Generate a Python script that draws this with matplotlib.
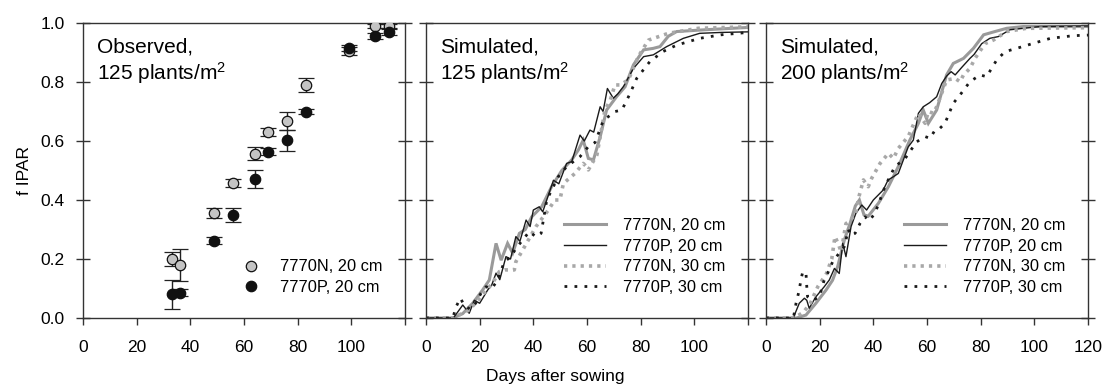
import matplotlib
matplotlib.use("Agg")
import matplotlib.pyplot as plt
from matplotlib.lines import Line2D

plt.rcParams['font.family'] = ['Liberation Sans', 'DejaVu Sans']
plt.rcParams['mathtext.fontset'] = 'custom'
plt.rcParams['mathtext.rm'] = 'Liberation Sans'
plt.rcParams['mathtext.it'] = 'Liberation Sans'

# ---------------- Observed data (panel 1) ----------------
obs_days = [33, 36, 49, 56, 64, 69, 76, 83, 99, 109, 114]
obsN = [0.20, 0.18, 0.355, 0.458, 0.557, 0.63, 0.667, 0.79, 0.905, 0.99, 0.99]
obsN_err = [0.025, 0.055, 0.017, 0.014, 0.021, 0.013, 0.03, 0.025, 0.012, 0.008, 0.008]
obsP = [0.08, 0.086, 0.262, 0.35, 0.471, 0.564, 0.602, 0.70, 0.915, 0.956, 0.969]
obsP_err = [0.048, 0.012, 0.011, 0.024, 0.03, 0.013, 0.035, 0.007, 0.01, 0.01, 0.01]

# ---------------- Simulated, 125 plants/m2 (panel 2) ----------------
p2_N20_d = [0, 10, 13.7, 17.4, 21.1, 23.6, 26.1, 28.0, 30.4, 32.3, 34.8, 37, 39.4, 43.1, 46.8,
            50.6, 54.3, 56.8, 58.6, 60.5, 62.4, 64.9, 67.3, 71.0, 74.2, 77.3, 81.1, 84.7, 87.2,
            90.3, 93.4, 102, 120]
p2_N20_f = [0, 0, 0.015, 0.05, 0.095, 0.129, 0.253, 0.196, 0.253, 0.22, 0.287, 0.30, 0.343, 0.377,
            0.445, 0.50, 0.536, 0.57, 0.603, 0.541, 0.536, 0.614, 0.705, 0.75, 0.784, 0.858, 0.909,
            0.914, 0.92, 0.955, 0.971, 0.976, 0.985]

p2_P20_d = [0, 9.6, 10.6, 13.7, 16.1, 18.0, 20.0, 23.0, 24.5, 26.1, 27.5, 29.8, 31.5, 33.5, 35.0,
            37.3, 38.8, 40.0, 42.2, 43.5, 45.0, 47.5, 49.5, 52.4, 54.3, 57.4, 59.0, 61.1, 62.5,
            64.9, 66.0, 67.6, 69.8, 71.5, 73.6, 77.3, 81.1, 84.7, 89.7, 95.9, 102, 110, 120]
p2_P20_f = [0, 0, 0.005, 0.044, 0.016, 0.06, 0.05, 0.095, 0.112, 0.152, 0.13, 0.208, 0.20, 0.276,
            0.26, 0.332, 0.31, 0.366, 0.377, 0.36, 0.40, 0.467, 0.455, 0.524, 0.53, 0.62, 0.60,
            0.637, 0.63, 0.716, 0.70, 0.778, 0.745, 0.76, 0.785, 0.846, 0.886, 0.892, 0.92, 0.948,
            0.965, 0.968, 0.97]

p2_N30_d = [0, 10, 16.1, 20.5, 24.8, 27.3, 29.4, 32.9, 33.5, 36.0, 38.5, 41, 45.6, 48, 49.9, 51.2,
            55.5, 58.6, 59.8, 60.5, 63.7, 66.7, 68.7, 70.4, 72.3, 75.4, 79.1, 82.9, 90.3, 101.5, 120]
p2_N30_f = [0, 0, 0.027, 0.072, 0.118, 0.157, 0.163, 0.163, 0.191, 0.23, 0.27, 0.31, 0.366, 0.40,
            0.40, 0.456, 0.49, 0.524, 0.513, 0.502, 0.553, 0.705, 0.739, 0.79, 0.79, 0.807, 0.886,
            0.942, 0.965, 0.982, 0.987]

p2_P30_d = [0, 10, 11.2, 12.8, 14.5, 16.5, 18.5, 20.5, 22.4, 24.5, 26.7, 29.2, 31.7, 33.5, 36.0,
            38.5, 41.0, 42.9, 45.0, 49.3, 52.4, 57.4, 60.5, 63.0, 66.1, 70.5, 73.0, 76.0, 78.5,
            83.4, 88.3, 93.4, 102, 110, 120]
p2_P30_f = [0, 0, 0.038, 0.067, 0.04, 0.03, 0.05, 0.084, 0.106, 0.10, 0.128, 0.191, 0.208, 0.236,
            0.264, 0.293, 0.275, 0.287, 0.40, 0.479, 0.513, 0.547, 0.581, 0.595, 0.67, 0.70, 0.705,
            0.76, 0.812, 0.869, 0.903, 0.925, 0.948, 0.96, 0.968]

# ---------------- Simulated, 200 plants/m2 (panel 3) ----------------
p3_N20_d = [0, 11.4, 14.9, 18.6, 22.4, 24.8, 26.7, 29.2, 31.3, 33.3, 34.8, 36.5, 38.1, 41.9, 45.6,
            49.3, 53.6, 56.8, 58.6, 60.5, 63.6, 67.3, 69.8, 73.6, 77.3, 81.1, 85.3, 89.7, 95.9, 120]
p3_N20_f = [0, 0, 0.01, 0.05, 0.095, 0.128, 0.174, 0.265, 0.32, 0.38, 0.40, 0.35, 0.345, 0.389,
            0.445, 0.513, 0.603, 0.66, 0.705, 0.66, 0.705, 0.824, 0.863, 0.88, 0.914, 0.96, 0.971,
            0.982, 0.988, 0.988]

p3_P20_d = [0, 10.2, 10.6, 12.4, 14.3, 15.2, 16.1, 18.6, 21.7, 23.6, 25.5, 27.3, 28.6, 29.8, 31.7,
            33.5, 35.7, 37.5, 40.0, 43.7, 45.5, 47.5, 49.3, 53.0, 54.9, 56.8, 58.6, 61.0, 63.6,
            65.5, 67.3, 69.0, 70.5, 73.0, 76.0, 77.5, 80.4, 83.4, 86.6, 90.9, 102, 120]
p3_P20_f = [0, 0, 0.01, 0.05, 0.067, 0.06, 0.033, 0.072, 0.106, 0.129, 0.168, 0.151, 0.253, 0.208,
            0.31, 0.355, 0.383, 0.366, 0.40, 0.434, 0.468, 0.479, 0.49, 0.58, 0.603, 0.694, 0.716,
            0.73, 0.75, 0.795, 0.82, 0.835, 0.824, 0.85, 0.88, 0.893, 0.93, 0.948, 0.954, 0.977,
            0.988, 0.99]

p3_N30_d = [0, 10.5, 14, 16.5, 19.3, 22.5, 24.5, 25.7, 27, 28, 29.8, 31.5, 33.5, 34.8, 36.3, 38.1,
            39.4, 42.5, 45.6, 47.5, 49.3, 53, 56.8, 59.3, 60.5, 62.4, 63.6, 67.3, 70.5, 72.3, 73.6,
            76, 77.9, 81.6, 84.7, 89.7, 97, 120]
p3_N30_f = [0, 0, 0.02, 0.05, 0.106, 0.15, 0.2, 0.276, 0.25, 0.224, 0.32, 0.33, 0.36, 0.417, 0.468,
            0.445, 0.474, 0.524, 0.558, 0.541, 0.575, 0.615, 0.694, 0.66, 0.70, 0.694, 0.716, 0.807,
            0.812, 0.801, 0.824, 0.846, 0.88, 0.93, 0.942, 0.971, 0.982, 0.984]

p3_P30_d = [0, 10.2, 11.2, 12.4, 13.0, 13.7, 14.9, 15.2, 15.5, 17.5, 19.9, 21.7, 23.0, 24.8, 26.7,
            29.2, 30.7, 31.5, 33.2, 35.0, 36.9, 38.5, 40.6, 42.5, 44.3, 48.0, 51.8, 56.1, 59.3,
            61.1, 63.0, 64.8, 66.7, 69.8, 72.3, 76.0, 79.8, 82.2, 86.0, 89.1, 93.4, 99.6, 106,
            114.5, 120]
p3_P30_f = [0, 0, 0.05, 0.095, 0.129, 0.157, 0.152, 0.106, 0.072, 0.06, 0.072, 0.129, 0.152, 0.19,
            0.213, 0.242, 0.30, 0.28, 0.287, 0.32, 0.343, 0.33, 0.355, 0.40, 0.445, 0.513, 0.54,
            0.597, 0.615, 0.609, 0.637, 0.643, 0.66, 0.728, 0.756, 0.801, 0.824, 0.818, 0.875,
            0.903, 0.914, 0.931, 0.948, 0.957, 0.959]

labels_sim = ["7770N, 20 cm", "7770P, 20 cm", "7770N, 30 cm", "7770P, 30 cm"]
labels_obs = ["7770N, 20 cm", "7770P, 20 cm"]
x_ticks = [0, 20, 40, 60, 80, 100, 120]
y_ticks = [0.0, 0.2, 0.4, 0.6, 0.8, 1.0]

GREY = "#9a9a9a"
GREY_DOT = "#a8a8a8"
DARK = "#1a1a1a"

W, H = 1108, 392
fig = plt.figure(figsize=(W / 100, H / 100), dpi=100)
lefts = [83, 426, 766]
axw, axb, axh = 322, 318, 295
axes = [fig.add_axes([l / W, (H - axb) / H, axw / W, axh / H]) for l in lefts]

for i, ax in enumerate(axes):
    ax.set_xlim(0, 120)
    ax.set_ylim(0, 1.0)
    ax.set_xticks(x_ticks)
    ax.set_yticks(y_ticks)
    if i < 2:
        ax.set_xticklabels([str(t) for t in x_ticks[:-1]] + [""])
    for s in ax.spines.values():
        s.set_color("#333333")
        s.set_linewidth(1.0)
    ax.tick_params(axis='x', direction='out', length=5, width=1, pad=11,
                   labelsize=12.5, color="#333333", top=False)
    ax.tick_params(axis='y', direction='inout', length=10, width=1, pad=8,
                   labelsize=12.5, color="#333333", right=True)
    if i > 0:
        ax.tick_params(axis='y', labelleft=False)

axes[0].set_yticklabels(["0.0", "0.2", "0.4", "0.6", "0.8", "1.0"])
axes[0].set_ylabel("f IPAR", fontsize=12.5, labelpad=6)

# Panel 1: observed
ax = axes[0]
ax.errorbar(obs_days, obsN, yerr=obsN_err, fmt='o', ms=7.5, mfc="#c4c4c4", mec="#111111",
            mew=0.9, ecolor="#222222", elinewidth=1.0, capsize=6, capthick=1.0,
            label=labels_obs[0], zorder=3)
ax.errorbar(obs_days, obsP, yerr=obsP_err, fmt='o', ms=7.5, mfc="#111111", mec="#111111",
            mew=0.9, ecolor="#222222", elinewidth=1.0, capsize=6, capthick=1.0,
            label=labels_obs[1], zorder=4)
h1 = Line2D([], [], ls='none', marker='o', ms=7.5, mfc="#c4c4c4", mec="#111111", mew=0.9)
h2 = Line2D([], [], ls='none', marker='o', ms=7.5, mfc="#111111", mec="#111111", mew=0.9)
ax.legend([h1, h2], labels_obs, loc='lower right', frameon=False, fontsize=11.8,
          handletextpad=1.0, labelspacing=0.35, borderaxespad=1.0, handlelength=1.5)
ax.text(0.045, 0.95, "Observed,\n125 plants/m$^2$", transform=ax.transAxes,
        fontsize=15, va='top', ha='left', linespacing=1.15)

# Panels 2 and 3: simulated
sims = [
    (p2_N20_d, p2_N20_f, p2_P20_d, p2_P20_f, p2_N30_d, p2_N30_f, p2_P30_d, p2_P30_f,
     "Simulated,\n125 plants/m$^2$"),
    (p3_N20_d, p3_N20_f, p3_P20_d, p3_P20_f, p3_N30_d, p3_N30_f, p3_P30_d, p3_P30_f,
     "Simulated,\n200 plants/m$^2$"),
]
for ax, (nd20, nf20, pd20, pf20, nd30, nf30, pd30, pf30, title) in zip(axes[1:], sims):
    l1, = ax.plot(nd20, nf20, color=GREY, lw=2.2, solid_joinstyle='miter')
    l2, = ax.plot(pd20, pf20, color=DARK, lw=1.0)
    l3, = ax.plot(nd30, nf30, color=GREY_DOT, lw=2.6, ls=(0, (0.9, 1.4)))
    l4, = ax.plot(pd30, pf30, color=DARK, lw=2.0, ls=(0, (1.0, 2.6)))
    ax.legend([l1, l2, l3, l4], labels_sim, loc='lower right', frameon=False, fontsize=11.8,
              handlelength=2.6, handletextpad=1.0, labelspacing=0.35, borderaxespad=1.0)
    ax.text(0.045, 0.95, title, transform=ax.transAxes, fontsize=15, va='top', ha='left',
            linespacing=1.15)

fig.text(555 / W, 1 - 377 / H, "Days after sowing", ha='center', va='center', fontsize=12.5)

fig.savefig("out.png", dpi=100, facecolor='white')
